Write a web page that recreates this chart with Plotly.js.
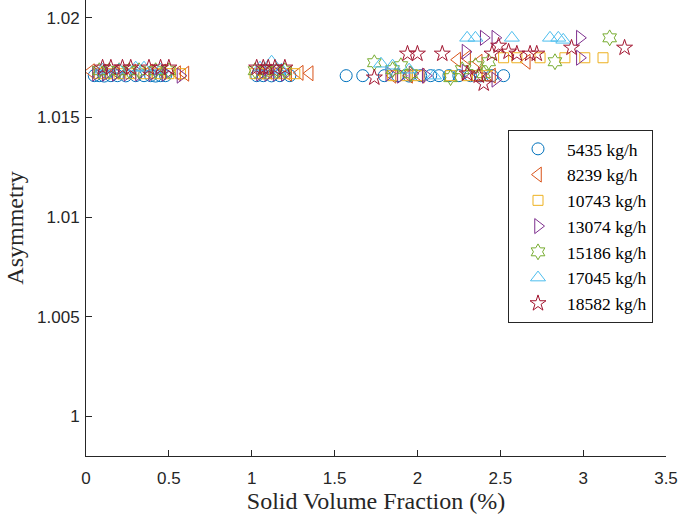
<!DOCTYPE html>
<html><head><meta charset="utf-8">
<script src="https://cdn.plot.ly/plotly-3.0.1.min.js"></script>
<style>html,body{margin:0;padding:0;background:#fff}#chart{width:679px;height:517px}</style>
</head><body><div id="chart"></div>
<script>
const seriesNames = ["5435 kg/h","8239 kg/h","10743 kg/h","13074 kg/h","15186 kg/h","17045 kg/h","18582 kg/h"];

const x5435 = [0.05,0.08,0.11,0.15,0.19,0.24,0.30,0.35,0.39,0.42,0.45,0.48,1.03,1.07,1.12,1.17,1.23,1.57,1.67,1.80,1.88,1.95,2.02,2.08,2.13,2.19,2.25,2.32,2.38,2.45,2.52];
const y5435 = [1.0171,1.0171,1.01708,1.0171,1.0171,1.01709,1.0171,1.0171,1.0171,1.01708,1.0171,1.0171,1.0171,1.0171,1.01709,1.0171,1.0171,1.0171,1.0171,1.0171,1.0171,1.01708,1.0171,1.0171,1.0171,1.0171,1.0171,1.0171,1.01709,1.0171,1.0171];

const x8239 = [0.03,0.10,0.18,0.28,0.38,0.46,0.55,0.60,1.05,1.10,1.16,1.22,1.29,1.35,1.85,1.95,2.02,2.24,2.30,2.37,2.45,2.66];
const y8239 = [1.01732,1.0173,1.0173,1.0173,1.0173,1.0173,1.01722,1.0172,1.0173,1.0173,1.0173,1.0172,1.01724,1.01722,1.0171,1.0171,1.0171,1.0179,1.0180,1.0178,1.0171,1.0178];

const x10743 = [0.07,0.13,0.20,0.27,0.35,0.43,0.50,0.57,1.02,1.08,1.14,1.20,1.26,1.85,1.93,2.00,2.20,2.30,2.36,2.42,2.52,2.60,2.74,2.89,3.01,3.12];
const y10743 = [1.0172,1.0172,1.0172,1.0172,1.0172,1.0172,1.0172,1.0172,1.0172,1.0172,1.0172,1.0172,1.0172,1.0171,1.0171,1.0171,1.0171,1.0171,1.0171,1.0171,1.0180,1.0180,1.0180,1.0180,1.0180,1.0180];

const x13074 = [0.06,0.12,0.18,0.25,0.32,0.40,0.48,0.57,1.05,1.10,1.15,1.20,1.83,1.90,1.97,2.05,2.29,2.29,2.40,2.47,2.47,2.98,2.98];
const y13074 = [1.0172,1.0172,1.0172,1.0172,1.0172,1.0172,1.0172,1.0171,1.0172,1.0172,1.0172,1.0172,1.0172,1.0171,1.0172,1.0171,1.0183,1.0173,1.0190,1.0190,1.0169,1.0190,1.0180];

const x15186 = [0.08,0.14,0.20,0.26,0.32,0.42,0.50,1.02,1.08,1.15,1.20,1.74,1.85,1.90,1.96,2.20,2.27,2.35,2.40,2.43,2.83,3.16];
const y15186 = [1.01735,1.01735,1.01735,1.01735,1.01735,1.01735,1.01735,1.01735,1.01735,1.01735,1.01735,1.01775,1.0174,1.0176,1.0172,1.0170,1.0174,1.0176,1.0172,1.0178,1.0178,1.0190];

const x17045 = [0.10,0.20,0.30,0.35,0.45,1.05,1.12,1.18,1.78,1.85,1.95,2.10,2.30,2.35,2.57,2.80,2.85,2.88];
const y17045 = [1.0174,1.0174,1.0175,1.0175,1.0174,1.0175,1.0178,1.0174,1.0177,1.0176,1.0174,1.0171,1.0190,1.0190,1.0190,1.0190,1.0190,1.0189];

const x18582 = [0.10,0.15,0.22,0.27,0.38,0.45,0.50,1.03,1.07,1.10,1.14,1.20,1.74,1.94,2.00,2.15,2.30,2.37,2.40,2.45,2.49,2.55,2.60,2.68,2.72,2.93,3.25];
const y18582 = [1.0175,1.0175,1.0175,1.0175,1.0175,1.0175,1.0175,1.0175,1.0175,1.0175,1.0175,1.0175,1.0170,1.0182,1.0182,1.0182,1.0172,1.0171,1.0167,1.0182,1.0186,1.0183,1.0182,1.0182,1.0182,1.0185,1.0185];

const xTickVals = [0,0.5,1,1.5,2,2.5,3,3.5];
const xTickText = ["0","0.5","1","1.5","2","2.5","3","3.5"];
const yTickVals = [1,1.005,1.01,1.015,1.02];
const yTickText = ["1","1.005","1.01","1.015","1.02"];

const xs = [x5435,x8239,x10743,x13074,x15186,x17045,x18582];
const ys = [y5435,y8239,y10743,y13074,y15186,y17045,y18582];
const colors = ["#0072BD","#D95319","#EDB120","#7E2F8E","#77AC30","#4DBEEE","#A2142F"];
const symbols = ["circle-open","triangle-left-open","square-open","triangle-right-open","hexagram-open","triangle-up-open","star-open"];
const sizes = [12,13,10,13,12,13,12];

const traces = seriesNames.map((n,i)=>({
  type:"scatter", mode:"markers", name:n, x:xs[i], y:ys[i],
  marker:{symbol:symbols[i], color:colors[i], size:sizes[i], line:{width:1, color:colors[i]}}
}));

const serifFam = "Liberation Serif";
const sansFam = "Liberation Sans";
const layout = {
  width:679, height:517,
  margin:{l:86, r:13, t:0, b:61},
  paper_bgcolor:"#fff", plot_bgcolor:"#fff",
  showlegend:true,
  xaxis:{range:[0,3.5], tickvals:xTickVals, ticktext:xTickText, ticks:"inside", ticklen:6, tickcolor:"#262626",
    showline:true, linecolor:"#262626", linewidth:1, showgrid:false, zeroline:false, ticklabelstandoff:7,
    tickfont:{family:sansFam, size:17, color:"#262626"},
    title:{text:"Solid Volume Fraction (%)", font:{family:serifFam, size:24, color:"#262626"}, standoff:3}},
  yaxis:{range:[0.998,1.0209], tickvals:yTickVals, ticktext:yTickText, ticks:"inside", ticklen:6, tickcolor:"#262626",
    showline:true, linecolor:"#262626", linewidth:1, showgrid:false, zeroline:false, ticklabelstandoff:2,
    tickfont:{family:sansFam, size:17, color:"#262626"},
    title:{text:"Asymmetry", font:{family:serifFam, size:24, color:"#262626"}, standoff:6}},
  legend:{x:0.7276, y:0.715, xanchor:"left", yanchor:"top", bgcolor:"#fff", bordercolor:"#262626", borderwidth:1,
    font:{family:serifFam, size:17.5, color:"#000"}, itemwidth:48, entrywidth:122}
};
Plotly.newPlot("chart", traces, layout, {staticPlot:true, displayModeBar:false});
</script></body></html>
